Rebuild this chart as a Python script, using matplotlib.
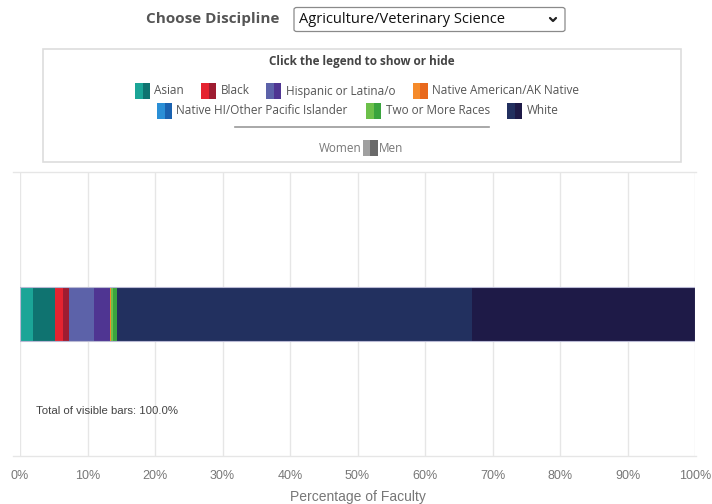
import matplotlib
matplotlib.use("Agg")
import matplotlib.pyplot as plt
from matplotlib.patches import Rectangle, FancyBboxPatch
from matplotlib.lines import Line2D

W, H = 712, 504

# ---- data ----
groups = ["Asian", "Black", "Hispanic or Latina/o", "Native American/AK Native",
          "Native HI/Other Pacific Islander", "Two or More Races", "White"]
women_pct = [1.9, 1.2, 3.7, 0.2, 0.0, 0.35, 52.6]
men_pct = [3.3, 0.8, 2.4, 0.0, 0.0, 0.5, 33.05]
women_colors = ["#1ba597", "#e52330", "#5c62a9", "#f58a2a", "#2a8fd6", "#6cc04a", "#22305f"]
men_colors = ["#0f7370", "#9e1c31", "#4f3592", "#e8681c", "#1a62b0", "#3aa43e", "#1e1a47"]
xticks = [0, 10, 20, 30, 40, 50, 60, 70, 80, 90, 100]
xtick_labels = [f"{t}%" for t in xticks]
discipline = "Agriculture/Veterinary Science"

fig = plt.figure(figsize=(W / 100, H / 100), dpi=100)
fig.patch.set_facecolor("white")


def fx(px):
    return px / W


def fy(py):
    return 1 - py / H


# ---- plot area ----
ax_l, ax_r, ax_t, ax_b = 20, 695, 172, 456
ax = fig.add_axes([fx(ax_l), fy(ax_b), fx(ax_r) - fx(ax_l), fy(ax_t) - fy(ax_b)])
ax.set_xlim(0, 100)
ax.set_ylim(0, 1)
for s in ax.spines.values():
    s.set_visible(False)
ax.set_yticks([])
ax.set_xticks(xticks)
ax.set_xticklabels(xtick_labels, fontsize=9, color="#777777", family="Liberation Sans")
ax.tick_params(axis="x", length=0, pad=10)
for t in xticks:
    ax.axvline(t, color="#e6e6e6", lw=1, zorder=0)

left = 0.0
bar_y, bar_h = 0.5, 0.187
for i in range(len(groups)):
    for val, col in ((women_pct[i], women_colors[i]), (men_pct[i], men_colors[i])):
        if val > 0:
            ax.barh(bar_y, val, left=left, height=bar_h, color=col, edgecolor="none", zorder=3)
            left += val
# thin bar outline
ax.add_patch(Rectangle((0, bar_y - bar_h / 2), left, bar_h, fill=False,
                       edgecolor="#b9b9d4", lw=0.8, zorder=4))

ax.set_xlabel("Percentage of Faculty", fontsize=10, color="#777777",
              family="Liberation Sans", labelpad=6)
fig.text(fx(35.5), fy(410.5), "Total of visible bars: 100.0%",
         fontsize=8.2, color="#444444", family="Liberation Sans", va="center", ha="left")

# top & bottom horizontal lines
fig.add_artist(Line2D([fx(13), fx(696)], [fy(172), fy(172)], color="#e6e6e6", lw=1))
fig.add_artist(Line2D([fx(13), fx(696)], [fy(456), fy(456)], color="#e6e6e6", lw=1))

# ---- header ----
fig.text(fx(213), fy(18.5), "Choose Discipline", fontsize=11, fontweight="bold",
         color="#555555", family="Open Sans", ha="center", va="center")
fig.add_artist(FancyBboxPatch((fx(294), fy(31.5)), fx(565) - fx(294), fy(7.5) - fy(31.5),
                              boxstyle="round,pad=0,rounding_size=0.004",
                              facecolor="white", edgecolor="#8a8a8a", lw=0.9,
                              transform=fig.transFigure))
fig.text(fx(299), fy(19.5), discipline, fontsize=10.5, color="#111111",
         family="Open Sans", ha="left", va="center")
# chevron
fig.add_artist(Line2D([fx(550), fx(553), fx(556)], [fy(18), fy(21), fy(18)],
                      color="#222222", lw=1.6, solid_capstyle="round",
                      solid_joinstyle="round"))

# ---- legend box ----
fig.add_artist(Rectangle((fx(43), fy(162)), fx(681) - fx(43), fy(49) - fy(162),
                         facecolor="white", edgecolor="#dddddd", lw=1.2,
                         transform=fig.transFigure))
fig.text(fx(362), fy(62), "Click the legend to show or hide", fontsize=8.5,
         fontweight="bold", color="#444444", family="Open Sans", ha="center", va="center")

leg_pos = [(135, 91), (201, 91), (266, 91), (413, 91), (157, 110.5), (366, 110.5), (507, 110.5)]
for i, g in enumerate(groups):
    x0, yc = leg_pos[i]
    fig.add_artist(Rectangle((fx(x0), fy(yc + 8)), fx(8), 16 / H,
                             facecolor=women_colors[i], edgecolor="none", lw=0,
                             transform=fig.transFigure))
    fig.add_artist(Rectangle((fx(x0 + 7.5), fy(yc + 8)), fx(7.5), 16 / H,
                             facecolor=men_colors[i], edgecolor="none", lw=0,
                             transform=fig.transFigure))
    fig.text(fx(x0 + 19.5), fy(yc), g, fontsize=8.5, color="#555555",
             family="Open Sans", ha="left", va="center")

fig.add_artist(Line2D([fx(235), fx(489)], [fy(126.7), fy(126.7)], color="#999999", lw=1.2))
fig.add_artist(Rectangle((fx(362.5), fy(156)), fx(8.5), 16 / H, facecolor="#a0a0a0",
                         edgecolor="none", lw=0, transform=fig.transFigure))
fig.add_artist(Rectangle((fx(370.5), fy(156)), fx(8), 16 / H, facecolor="#6a6a6a",
                         edgecolor="none", lw=0, transform=fig.transFigure))
fig.text(fx(362), fy(148), "Women", fontsize=8.5, color="#777777",
         family="Open Sans", ha="right", va="center")
fig.text(fx(378.5), fy(148), "Men", fontsize=8.5, color="#777777",
         family="Open Sans", ha="left", va="center")

fig.savefig("out.png", dpi=100, facecolor="white")
